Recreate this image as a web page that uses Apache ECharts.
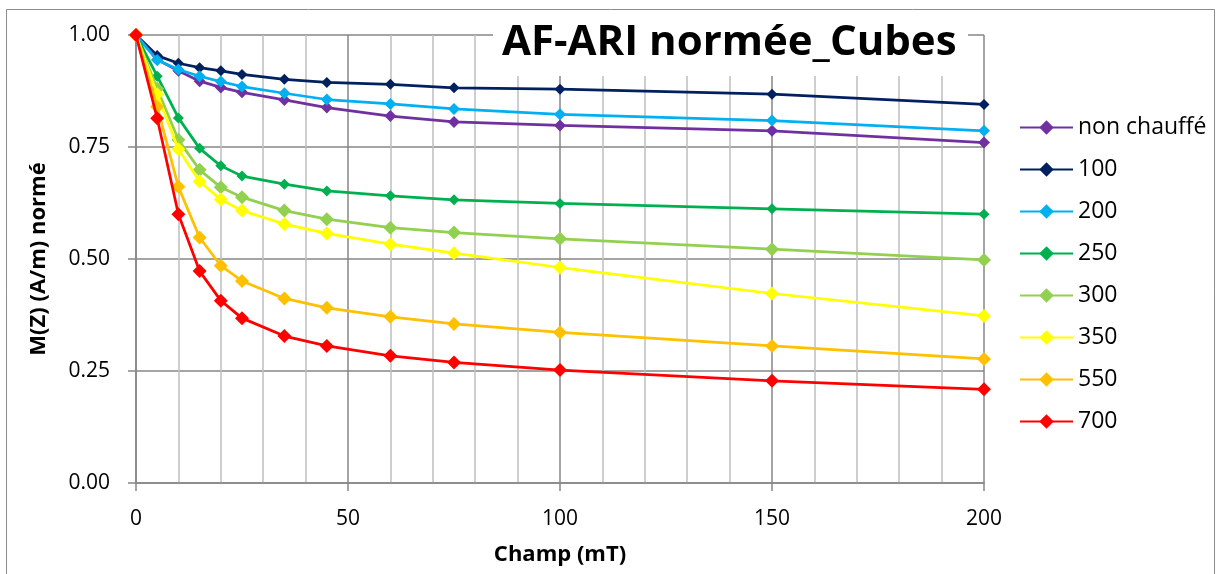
<!DOCTYPE html>
<html>
<head>
<meta charset="utf-8">
<script src="https://cdn.jsdelivr.net/npm/echarts@6/dist/echarts.min.js"></script>
<style>
  html, body { margin: 0; padding: 0; background: #ffffff; }
  #chart { width: 1216px; height: 574px; }
</style>
</head>
<body>
<div id="chart"></div>
<script>
// AF field steps (mT)
const champ = [0, 5, 10, 15, 20, 25, 35, 45, 60, 75, 100, 150, 200];

// Normalised remanence per heating temperature
const nonChauffe = [1.000, 0.945, 0.920, 0.897, 0.883, 0.872, 0.855, 0.838, 0.819, 0.806, 0.798, 0.786, 0.760];
const t100 = [1.000, 0.954, 0.937, 0.927, 0.920, 0.912, 0.901, 0.894, 0.890, 0.882, 0.879, 0.868, 0.845];
const t200 = [1.000, 0.944, 0.923, 0.908, 0.896, 0.885, 0.870, 0.856, 0.846, 0.835, 0.823, 0.809, 0.786];
const t250 = [1.000, 0.908, 0.815, 0.747, 0.708, 0.685, 0.667, 0.652, 0.641, 0.632, 0.624, 0.612, 0.600];
const t300 = [1.000, 0.880, 0.766, 0.699, 0.660, 0.638, 0.608, 0.589, 0.570, 0.559, 0.545, 0.522, 0.498];
const t350 = [1.000, 0.868, 0.745, 0.673, 0.633, 0.608, 0.578, 0.557, 0.533, 0.513, 0.481, 0.423, 0.373];
const t550 = [1.000, 0.840, 0.661, 0.548, 0.485, 0.451, 0.412, 0.391, 0.371, 0.355, 0.336, 0.306, 0.277];
const t700 = [1.000, 0.814, 0.600, 0.473, 0.407, 0.368, 0.328, 0.306, 0.284, 0.269, 0.252, 0.228, 0.209];

const seriesNames = ['non chauffé', '100', '200', '250', '300', '350', '550', '700'];
const seriesValues = [nonChauffe, t100, t200, t250, t300, t350, t550, t700];
const seriesColors = ['#7030A0', '#002060', '#00B0F0', '#00B050', '#92D050', '#FFFF00', '#FFC000', '#FF0000'];
const markerSizes = [12, 11, 12, 11, 14, 14, 14, 14];

const yTicks = [0, 0.25, 0.5, 0.75, 1.0];

const FONT = '"Open Sans", "DejaVu Sans", sans-serif';

const chart = echarts.init(document.getElementById('chart'), null, { renderer: 'canvas' });

const series = seriesNames.map((name, i) => ({
  name: name,
  type: 'line',
  data: champ.map((x, j) => [x, seriesValues[i][j]]),
  symbol: 'diamond',
  symbolSize: markerSizes[i],
  showAllSymbol: true,
  color: seriesColors[i],
  lineStyle: { width: 2.75, color: seriesColors[i] },
  itemStyle: { color: seriesColors[i] },
  emphasis: { disabled: true },
  animation: false,
  z: 3 + i
}));

chart.setOption({
  backgroundColor: '#ffffff',
  animation: false,
  textStyle: { fontFamily: FONT },
  title: {
    text: 'AF-ARI normée_Cubes',
    left: 502,
    top: 22,
    padding: 0,
    z: 20,
    textStyle: { fontFamily: FONT, fontWeight: 'bold', fontSize: 42, color: '#000000' }
  },
  graphic: [
    {
      // white panel behind the title, hiding the grid lines there
      type: 'rect',
      z: 15,
      silent: true,
      shape: { x: 493, y: 20, width: 475, height: 56 },
      style: { fill: '#ffffff', stroke: null }
    },
    {
      // outer chart frame
      type: 'rect',
      z: 30,
      silent: true,
      shape: { x: 6.5, y: 9.5, width: 1208, height: 580 },
      style: { fill: null, stroke: '#8c8c8c', lineWidth: 1 }
    }
  ],
  legend: {
    orient: 'vertical',
    left: 1019,
    top: 116,
    padding: 0,
    itemWidth: 53,
    itemHeight: 18,
    itemGap: 19,
    data: seriesNames,
    textStyle: { fontFamily: FONT, fontSize: 23, color: '#000000' },
    selectedMode: false
  },
  grid: { left: 136, right: 232, top: 35, bottom: 91, containLabel: false, outerBoundsMode: 'none' },
  xAxis: {
    type: 'value',
    min: 0,
    max: 200,
    interval: 50,
    name: 'Champ (mT)',
    nameLocation: 'middle',
    nameGap: 61,
    nameTextStyle: { fontFamily: FONT, fontWeight: 'bold', fontSize: 22, color: '#000000' },
    axisLine: { show: true, lineStyle: { color: '#868686', width: 1.5 } },
    axisTick: { show: true, inside: false, length: 8, lineStyle: { color: '#868686', width: 1.5 } },
    axisLabel: { margin: 26, fontFamily: FONT, fontSize: 21, color: '#000000' },
    splitLine: { show: true, lineStyle: { color: '#868686', width: 1.5 } },
    minorTick: { show: false, splitNumber: 5 },
    minorSplitLine: { show: true, lineStyle: { color: '#bfbfbf', width: 1.5 } }
  },
  yAxis: {
    type: 'value',
    min: 0,
    max: 1,
    interval: 0.25,
    name: 'M(Z) (A/m) normé',
    nameLocation: 'middle',
    nameGap: 86,
    nameRotate: 90,
    nameTextStyle: { fontFamily: FONT, fontWeight: 'bold', fontSize: 22, color: '#000000' },
    axisLine: { show: true, lineStyle: { color: '#868686', width: 1.5 } },
    axisTick: { show: true, inside: false, length: 8, lineStyle: { color: '#868686', width: 1.5 } },
    axisLabel: {
      margin: 26,
      fontFamily: FONT,
      fontSize: 21,
      color: '#000000',
      formatter: v => (yTicks.indexOf(v) >= 0 ? v.toFixed(2) : '')
    },
    splitLine: { show: true, lineStyle: { color: '#868686', width: 1.5 } }
  },
  series: series
});
</script>
</body>
</html>
